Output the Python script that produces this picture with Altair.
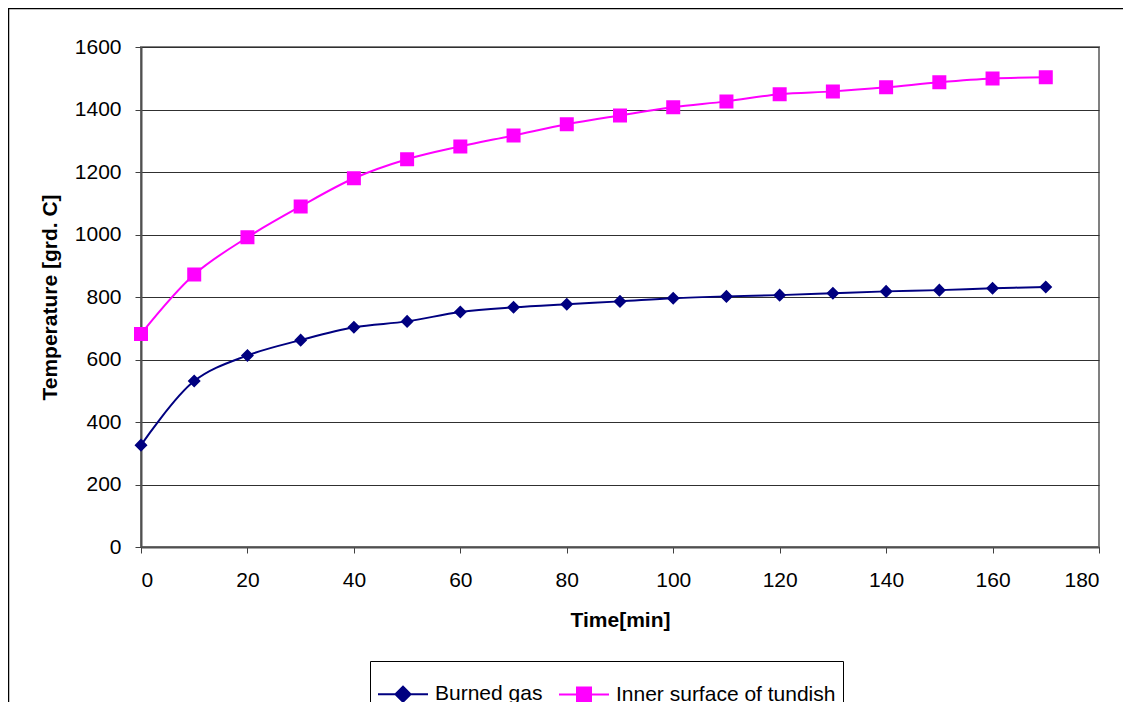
import altair as alt
import pandas as pd

times = [0, 10, 20, 30, 40, 50, 60, 70, 80, 90, 100, 110, 120, 130, 140, 150, 160, 170]
burned_gas = [326, 531, 613, 662, 703, 722, 752, 767, 777, 786, 796, 802, 806, 812, 818, 822, 828, 832]
inner_surface = [682, 872, 991, 1090, 1180, 1241, 1282, 1317, 1353, 1381, 1407, 1426, 1449, 1458, 1471, 1487, 1499, 1503]

series_names = ["Burned gas", "Inner surface of tundish"]
series_colors = ["#000080", "#FF00FF"]

# marker shapes with a zero-area line tail; the tail is only stroked in the legend
diamond_path = "M-1,0L-0.3,0L0,-0.3L0.3,0L1,0L0.3,0L0,0.3L-0.3,0Z"
square_path = "M-1,0L-0.28,0L-0.28,-0.28L0.28,-0.28L0.28,0L1,0L0.28,0L0.28,0.28L-0.28,0.28L-0.28,0Z"
series_paths = [diamond_path, square_path]
series_sizes = [1880, 2500]

rows = []
for name, vals, sz in zip(series_names, [burned_gas, inner_surface], series_sizes):
    for t, v in zip(times, vals):
        rows.append({"time": t, "series": name, "value": v, "msize": sz})
df = pd.DataFrame(rows)

FONT = "Liberation Sans"

x_enc = alt.X("time:Q", title="Time[min]",
              scale=alt.Scale(domain=[0, 180], nice=False),
              axis=alt.Axis(values=list(range(0, 181, 20)), grid=False, tickSize=6,
                            labelPadding=16, titlePadding=19))
y_enc = alt.Y("value:Q", title="Temperature [grd. C]",
              scale=alt.Scale(domain=[0, 1600], nice=False),
              axis=alt.Axis(values=list(range(0, 1601, 200)), format="d", grid=True, tickSize=6,
                            labelPadding=14, titlePadding=14))

color_scale = alt.Scale(domain=series_names, range=series_colors)

legend = alt.Legend(
    orient="none", legendX=229, legendY=614, direction="horizontal",
    symbolSize=2500, symbolStrokeWidth=2, labelFontSize=21, labelFont=FONT,
    strokeColor="black", fillColor="white", padding=7, columnPadding=12,
    labelOffset=6, labelColor="black", symbolOpacity=1, labelLimit=400,
)

border = alt.Chart(pd.DataFrame({"a": [0]})).mark_rect(
    fill=None, stroke="black", strokeWidth=1.5, clip=False
).encode(x=alt.value(-132.5), x2=alt.value(1100), y=alt.value(-38.5), y2=alt.value(760))

line_layers = []
for i, (name, col) in enumerate(zip(series_names, series_colors)):
    base = alt.Chart(df).transform_filter(alt.datum.series == name).mark_line(
        interpolate="catmull-rom", strokeWidth=2, color=col)
    if i == 0:
        line_layers.append(base.encode(x=x_enc, y=y_enc))
    else:
        line_layers.append(base.encode(x="time:Q", y="value:Q"))

points = alt.Chart(df).mark_point(filled=True, opacity=1, strokeWidth=0).encode(
    x="time:Q", y="value:Q",
    color=alt.Color("series:N", scale=color_scale, title="", legend=legend),
    stroke=alt.Stroke("series:N", scale=color_scale, title="", legend=legend),
    shape=alt.Shape("series:N", scale=alt.Scale(domain=series_names, range=series_paths), title="", legend=legend),
    size=alt.Size("msize:Q", scale=None),
)

chart = alt.layer(border, *line_layers, points).properties(
    width=958, height=500,
    autosize=alt.AutoSizeParams(type="none"),
    padding={"left": 133, "top": 39, "right": 24, "bottom": 155},
    background="white",
).configure_view(
    stroke="#808080", strokeWidth=2
).configure_axis(
    labelFont=FONT, labelFontSize=21, labelColor="black",
    titleFont=FONT, titleFontSize=21, titleFontWeight="bold", titleColor="black",
    domainColor="#505050", domainWidth=2, tickColor="#404040", tickWidth=1,
    gridColor="#303030", gridWidth=1, gridOpacity=1,
)

chart.save("out.html", embed_options={"renderer": "svg", "actions": False})
